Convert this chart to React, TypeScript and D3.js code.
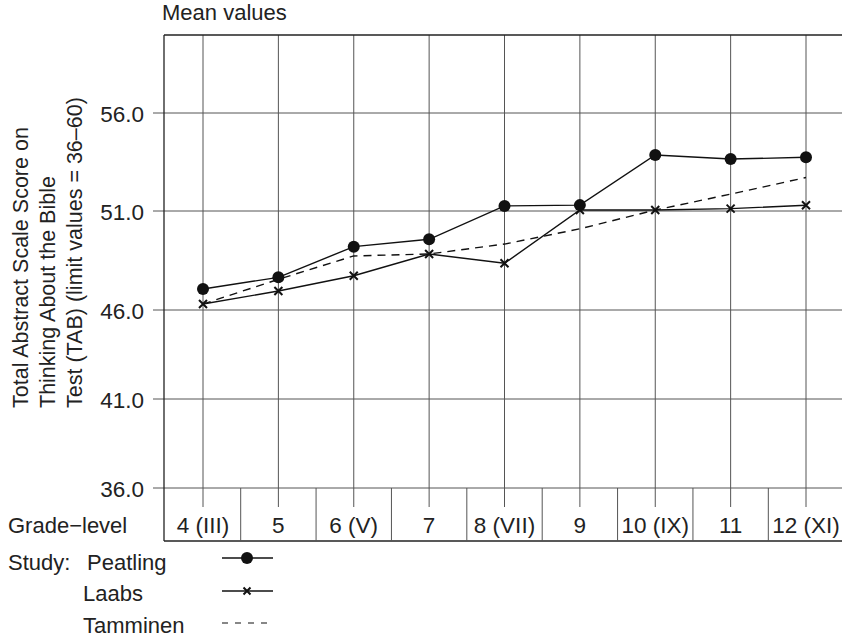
import React, { useEffect, useRef } from "react";
import * as d3 from "d3";

const grades = ["4 (III)", "5", "6 (V)", "7", "8 (VII)", "9", "10 (IX)", "11", "12 (XI)"];
const peatling = [47.06, 47.65, 49.2, 49.57, 51.26, 51.3, 53.86, 53.65, 53.74];
const laabs = [46.3, 46.96, 47.73, 48.83, 48.36, 51.05, 51.05, 51.12, 51.29];
const tamminen = [46.3, 47.55, 48.73, 48.83, 49.33, 50.1, 51.05, 51.86, 52.71];
const yTicks = [36, 41, 46, 51, 56];
const yTitleLines = ["Total Abstract Scale Score on", "Thinking About the Bible", "Test (TAB) (limit values = 36\u201360)"];
const legendItems = ["Peatling", "Laabs", "Tamminen"];

const W = 842;
const H = 640;
const FONT = "'Liberation Sans', Arial, Helvetica, sans-serif";

export default function App() {
  const ref = useRef<SVGSVGElement>(null);

  useEffect(() => {
    const svg = d3.select(ref.current);
    svg.selectAll("*").remove();

    const left = 164, right = 842, top = 35, plotBottom = 488, tableBottom = 541;
    const x = d3.scalePoint<string>().domain(grades).range([203, 806]);
    const step = x.step();
    // the original axis is drawn with slightly uneven spacing
    const y = d3.scaleLinear().domain([36, 41, 46, 51, 56]).range([488, 399, 310, 211, 113]);

    const gridColor = "#555";
    const g = svg.append("g");

    // horizontal grid
    g.selectAll(".hg").data(yTicks).join("line")
      .attr("x1", 153).attr("x2", right)
      .attr("y1", d => y(d)).attr("y2", d => y(d))
      .attr("stroke", gridColor).attr("stroke-width", 1);

    // vertical grid
    g.selectAll(".vg").data(grades).join("line")
      .attr("x1", d => x(d)!).attr("x2", d => x(d)!)
      .attr("y1", top).attr("y2", 507)
      .attr("stroke", gridColor).attr("stroke-width", 1);

    // borders
    g.append("line").attr("x1", left).attr("x2", right).attr("y1", top).attr("y2", top)
      .attr("stroke", "#222").attr("stroke-width", 1.3);
    g.append("line").attr("x1", left).attr("x2", left).attr("y1", top).attr("y2", tableBottom)
      .attr("stroke", "#222").attr("stroke-width", 1.3);
    g.append("line").attr("x1", left).attr("x2", right).attr("y1", tableBottom).attr("y2", tableBottom)
      .attr("stroke", "#222").attr("stroke-width", 1.3);

    // table separators
    g.selectAll(".sep").data(grades.slice(0, -1)).join("line")
      .attr("x1", d => x(d)! + step / 2).attr("x2", d => x(d)! + step / 2)
      .attr("y1", plotBottom).attr("y2", tableBottom)
      .attr("stroke", gridColor).attr("stroke-width", 1);

    // y tick labels
    g.selectAll(".yt").data(yTicks).join("text")
      .attr("x", 144).attr("y", d => y(d) + 9)
      .attr("text-anchor", "end")
      .attr("font-family", FONT).attr("font-size", 22.5).attr("fill", "#222")
      .text(d => d.toFixed(1));

    // grade labels
    g.selectAll(".gl").data(grades).join("text")
      .attr("x", d => x(d)!).attr("y", 533)
      .attr("text-anchor", "middle")
      .attr("font-family", FONT).attr("font-size", 22.5).attr("fill", "#222")
      .text(d => d);

    g.append("text").attr("x", 8).attr("y", 533)
      .attr("font-family", FONT).attr("font-size", 22).attr("fill", "#222")
      .text("Grade\u2212level");

    g.append("text").attr("x", 162).attr("y", 20)
      .attr("font-family", FONT).attr("font-size", 22).attr("fill", "#222")
      .text("Mean values");

    // y title (left-aligned lines, reading bottom to top)
    const yt = g.append("text")
      .attr("transform", "translate(28,408) rotate(-90)")
      .attr("text-anchor", "start")
      .attr("font-family", FONT).attr("font-size", 21.5).attr("fill", "#222");
    yTitleLines.forEach((t, i) => {
      yt.append("tspan").attr("x", 0).attr("y", i * 27).text(t);
    });

    const line = d3.line<number>().x((_, i) => x(grades[i])!).y(d => y(d));

    g.append("path").datum(tamminen).attr("d", line)
      .attr("fill", "none").attr("stroke", "#111").attr("stroke-width", 1.4)
      .attr("stroke-dasharray", "8,6");
    g.append("path").datum(laabs).attr("d", line)
      .attr("fill", "none").attr("stroke", "#111").attr("stroke-width", 1.4);
    g.append("path").datum(peatling).attr("d", line)
      .attr("fill", "none").attr("stroke", "#111").attr("stroke-width", 1.4);

    const cross = (sel: any, cx: number, cy: number, r: number) => {
      sel.append("path")
        .attr("d", `M${cx - r},${cy - r}L${cx + r},${cy + r}M${cx - r},${cy + r}L${cx + r},${cy - r}`)
        .attr("stroke", "#111").attr("stroke-width", 2).attr("fill", "none");
    };

    laabs.forEach((v, i) => cross(g, x(grades[i])!, y(v), 4));
    g.selectAll(".pd").data(peatling).join("circle")
      .attr("cx", (_, i) => x(grades[i])!).attr("cy", d => y(d)).attr("r", 6)
      .attr("fill", "#111");

    // legend
    const lg = g.append("g");
    lg.append("text").attr("x", 8).attr("y", 570)
      .attr("font-family", FONT).attr("font-size", 22).attr("fill", "#222")
      .text("Study:");
    const ly = [570, 601, 633];
    const lx = [87, 83, 83];
    legendItems.forEach((t, i) => {
      lg.append("text").attr("x", lx[i]).attr("y", ly[i])
        .attr("font-family", FONT).attr("font-size", 22).attr("fill", "#222").text(t);
    });
    const sy = [558, 591, 623];
    lg.append("line").attr("x1", 222).attr("x2", 273).attr("y1", sy[0]).attr("y2", sy[0])
      .attr("stroke", "#111").attr("stroke-width", 1.4);
    lg.append("circle").attr("cx", 247).attr("cy", sy[0]).attr("r", 6).attr("fill", "#111");
    lg.append("line").attr("x1", 222).attr("x2", 273).attr("y1", sy[1]).attr("y2", sy[1])
      .attr("stroke", "#111").attr("stroke-width", 1.4);
    cross(lg, 247, sy[1], 3.5);
    lg.append("line").attr("x1", 222).attr("x2", 273).attr("y1", sy[2]).attr("y2", sy[2])
      .attr("stroke", "#111").attr("stroke-width", 1.2).attr("stroke-dasharray", "6,7");
  }, []);

  return (
    <svg ref={ref} width={W} height={H}
      style={{ position: "absolute", left: 0, top: 0, background: "#fff", display: "block" }} />
  );
}
